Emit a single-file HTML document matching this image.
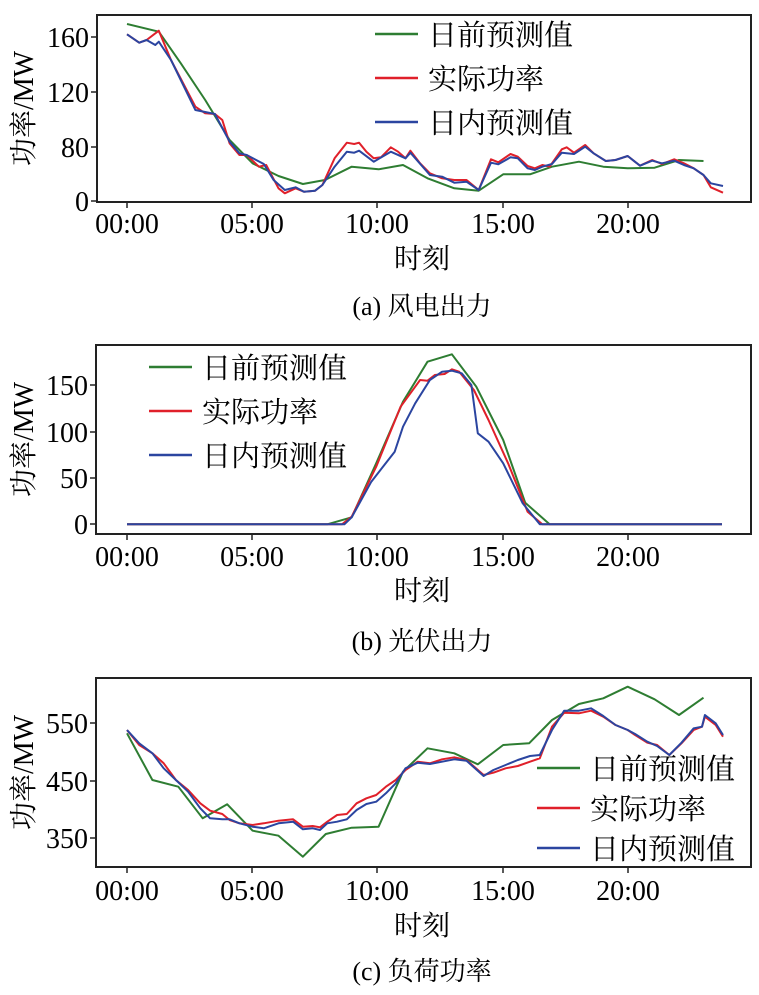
<!DOCTYPE html>
<html><head><meta charset="utf-8"><style>
body{margin:0;background:#fff;}
svg{display:block;font-family:"Liberation Serif","Noto Serif CJK SC",serif;}
</style></head><body>
<svg id="s" width="759" height="995" xmlns="http://www.w3.org/2000/svg"></svg>
<script>
const NS="http://www.w3.org/2000/svg",S=document.getElementById('s');
function el(t,a,txt){const e=document.createElementNS(NS,t);for(const k in a)e.setAttribute(k,a[k]);if(txt!==undefined)e.textContent=txt;S.appendChild(e);return e;}
function line(pts,off,col){el('polyline',{points:pts.map(p=>(p[0]/2.047).toFixed(1)+','+(off+p[1]/3).toFixed(1)).join(' '),fill:'none',stroke:col,'stroke-width':2,'stroke-linejoin':'round'});}
const G='#2e7d32',R='#e0202a',B='#2b45a0';
function frame(x1,y1,x2,y2,ticksY,labY,xl,cap,capY,leg,legX,legY){
 el('rect',{x:x1,y:y1,width:x2-x1,height:y2-y1,fill:'none',stroke:'#222','stroke-width':2});
 const xs=[127,252,377,503,628],lb=['00:00','05:00','10:00','15:00','20:00'];
 xs.forEach((x,i)=>{el('line',{x1:x,y1:y2,x2:x,y2:y2+6,stroke:'#222','stroke-width':1.5});el('text',{x:x,y:labY,'font-size':28,'text-anchor':'middle'},lb[i]);});
 ticksY.forEach(t=>{el('line',{x1:x1-6,y1:t[1],x2:x1,y2:t[1],stroke:'#222','stroke-width':1.5});el('text',{x:x1-8,y:t[1]+10,'font-size':28,'text-anchor':'end'},t[0]);});
 el('text',{x:422,y:xl,'font-size':28,'text-anchor':'middle'},'时刻');
 el('text',{x:422,y:capY,'font-size':26,'text-anchor':'middle'},cap);
 const cy=(y1+y2)/2;
 el('text',{x:0,y:0,'font-size':28,'text-anchor':'middle',transform:`translate(33,${cy}) rotate(-90)`},'功率/MW');
 const names=['日前预测值','实际功率','日内预测值'],cols=[G,R,B];
 legY.forEach((y,i)=>{el('line',{x1:legX,y1:y,x2:legX+43,y2:y,stroke:cols[i],'stroke-width':2.5});el('text',{x:legX+53,y:y+11,'font-size':29},names[i]);});
}
// chart a
frame(97,15,751,202,[['160',37],['120',92],['80',147],['0',201]],233,268,'(a) 风电出力',315,0,375,[34,78,122]);
line([[260,72],[325,95],[370,190],[420,300],[470,420],[517,490],[570,528],[620,552],[665,540],[720,500],[775,508],[825,495],[875,535],[930,565],[980,572],[1030,523],[1085,523],[1130,500],[1185,485],[1235,500],[1285,505],[1340,503],[1390,480],[1440,483]],0,G);
line([[260,103],[285,128],[300,120],[325,92],[350,180],[400,320],[420,340],[440,342],[455,360],[470,430],[490,465],[505,465],[530,500],[545,495],[570,565],[583,580],[605,565],[622,575],[645,572],[660,555],[685,475],[710,428],[725,432],[735,428],[750,455],[765,475],[780,472],[800,442],[815,455],[830,475],[840,452],[860,490],[880,520],[905,535],[930,540],[955,540],[980,570],[1005,478],[1020,487],[1045,462],[1060,470],[1080,498],[1095,505],[1110,495],[1125,500],[1150,448],[1160,442],[1175,458],[1198,435],[1215,460],[1240,483],[1260,480],[1285,468],[1310,497],[1335,480],[1355,492],[1380,478],[1400,490],[1420,505],[1440,525],[1455,562],[1480,578]],0,R);
line([[260,103],[285,128],[300,120],[318,135],[325,125],[350,180],[400,330],[440,342],[470,425],[490,460],[505,465],[540,492],[560,540],[583,570],[605,562],[622,575],[645,572],[660,555],[685,500],[710,455],[725,458],[735,452],[765,485],[800,455],[830,475],[840,458],[880,525],[905,530],[930,548],[955,545],[980,570],[1005,488],[1020,493],[1045,472],[1060,475],[1080,505],[1095,510],[1110,500],[1130,492],[1150,458],[1175,462],[1198,440],[1215,460],[1240,483],[1260,480],[1285,468],[1310,497],[1335,482],[1355,490],[1380,482],[1400,495],[1420,505],[1440,525],[1455,550],[1480,558]],0,B);
// chart b
frame(96,345,751,534,[['150',385],['100',432],['50',478],['0',524]],566,600,'(b) 光伏出力',650,0,149,[367,411,455]);
line([[260,583],[670,583],[720,562],[770,400],[825,215],[875,95],[925,73],[975,170],[1030,330],[1075,518],[1125,583],[1478,583]],330,G);
line([[260,583],[700,583],[720,560],[770,410],[820,230],[860,150],[875,152],[890,135],[910,132],[925,118],[940,125],[970,180],[1000,270],[1040,400],[1080,545],[1110,583],[1478,583]],330,R);
line([[260,583],[705,583],[720,562],[760,455],[808,365],[825,290],[850,220],[880,150],[905,125],[925,122],[945,130],[965,165],[978,310],[1000,335],[1030,400],[1070,520],[1105,583],[1478,583]],330,B);
// chart c
frame(96,678,751,867,[['550',723],['450',781],['350',838]],900,935,'(c) 负荷功率',980,0,537,[768,808,848]);
line([[260,220],[312,360],[365,380],[415,475],[465,433],[517,512],[570,527],[620,590],[667,522],[720,503],[775,500],[825,335],[875,265],[930,280],[978,313],[1030,255],[1083,250],[1130,180],[1185,132],[1235,115],[1285,80],[1340,118],[1390,165],[1440,113]],660,G);
line([[260,210],[285,255],[312,280],[335,310],[360,360],[385,390],[410,430],[430,452],[455,462],[470,480],[490,490],[517,495],[540,490],[570,482],[600,478],[620,500],[640,498],[655,502],[670,485],[690,465],[710,462],[730,430],[750,415],[770,405],[790,380],[810,360],[830,330],[855,305],[880,310],[905,298],[930,292],[955,300],[990,345],[1010,338],[1035,325],[1060,318],[1085,305],[1105,295],[1130,200],[1155,158],[1185,160],[1210,152],[1235,170],[1260,195],[1285,210],[1300,225],[1325,248],[1345,255],[1370,285],[1395,250],[1420,210],[1437,200],[1443,170],[1465,195],[1480,230]],660,R);
line([[260,210],[285,250],[312,280],[335,325],[360,360],[385,395],[410,445],[430,475],[455,478],[470,478],[490,490],[517,500],[540,505],[570,490],[600,485],[620,508],[640,505],[655,510],[670,490],[690,485],[710,478],[730,450],[750,432],[770,425],[790,400],[810,370],[830,325],[855,308],[880,312],[905,305],[930,298],[955,302],[990,348],[1010,330],[1035,315],[1060,300],[1085,288],[1105,285],[1130,210],[1155,152],[1185,152],[1210,145],[1235,168],[1260,195],[1285,210],[1300,222],[1325,245],[1345,258],[1370,285],[1395,248],[1420,205],[1437,200],[1443,165],[1465,190],[1480,225]],660,B);
</script>
</body></html>
